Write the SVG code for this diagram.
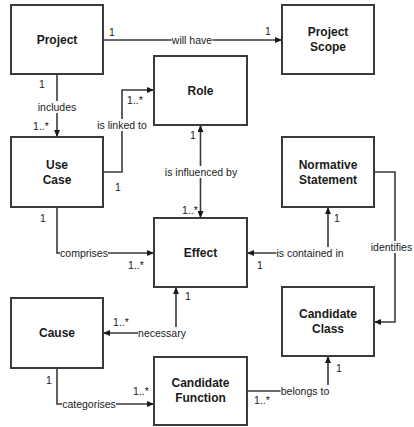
<svg xmlns="http://www.w3.org/2000/svg" width="414" height="427" viewBox="0 0 414 427">
<defs>
<style>
.box{fill:#fff;stroke:#3a3a3a;stroke-width:2}
.nt{font-family:"Liberation Sans",Arial,sans-serif;font-size:12px;font-weight:bold;fill:#1a1a1a;text-anchor:middle}
.ln{fill:none;stroke:#3a3a3a;stroke-width:1.6}
.lb{font-family:"Liberation Sans",Arial,sans-serif;font-size:10.5px;fill:#1a1a1a;text-anchor:middle}
.bg{fill:#fff}
</style>
<marker id="ah" markerWidth="7" markerHeight="6" refX="7" refY="3" orient="auto-start-reverse" markerUnits="userSpaceOnUse">
<path d="M0,0 L7,3 L0,6 z" fill="#1a1a1a"/>
</marker>
</defs>
<rect width="414" height="427" fill="#fff"/>
<g id="connectors">
<path class="ln" d="M103,40 H282" marker-end="url(#ah)"/>
<path class="ln" d="M57,74 V137" marker-end="url(#ah)"/>
<path class="ln" d="M103,172 H122 V90 H154" marker-end="url(#ah)"/>
<path class="ln" d="M200.5,125 V218" marker-start="url(#ah)" marker-end="url(#ah)"/>
<path class="ln" d="M57,207 V253 H154" marker-end="url(#ah)"/>
<path class="ln" d="M247,253 H328 V207" marker-start="url(#ah)" marker-end="url(#ah)"/>
<path class="ln" d="M374,172 H395 V322 H374" marker-end="url(#ah)"/>
<path class="ln" d="M176,287 V333 H103" marker-start="url(#ah)" marker-end="url(#ah)"/>
<path class="ln" d="M57,368 V404 H154" marker-end="url(#ah)"/>
<path class="ln" d="M247,391 H328 V356" marker-end="url(#ah)"/>
<rect class="bg" x="171.5" y="34" width="41" height="12"/>
<rect class="bg" x="37.5" y="101" width="39" height="12"/>
<rect class="bg" x="97" y="119" width="50" height="12"/>
<rect class="bg" x="164.5" y="166" width="73" height="12"/>
<rect class="bg" x="60" y="247" width="48" height="12"/>
<rect class="bg" x="276.5" y="247" width="67" height="12"/>
<rect class="bg" x="370" y="241" width="43" height="12"/>
<rect class="bg" x="138" y="327" width="48" height="12"/>
<rect class="bg" x="62" y="398" width="54" height="12"/>
<rect class="bg" x="280.5" y="385" width="49" height="12"/>
<text class="lb" x="112" y="35.5">1</text>
<text class="lb" x="192" y="43.5">will have</text>
<text class="lb" x="268" y="34.5">1</text>
<text class="lb" x="42" y="87.5">1</text>
<text class="lb" x="57" y="110.5">includes</text>
<text class="lb" x="41" y="129.5">1..*</text>
<text class="lb" x="135" y="103.5">1..*</text>
<text class="lb" x="122" y="128.5">is linked to</text>
<text class="lb" x="118" y="190.5">1</text>
<text class="lb" x="193" y="138.5">1</text>
<text class="lb" x="201" y="175.5">is influenced by</text>
<text class="lb" x="190" y="213.5">1..*</text>
<text class="lb" x="43" y="221.5">1</text>
<text class="lb" x="84" y="256.5">comprises</text>
<text class="lb" x="136" y="268.5">1..*</text>
<text class="lb" x="337" y="221.5">1</text>
<text class="lb" x="310" y="256.5">is contained in</text>
<text class="lb" x="260" y="268.5">1</text>
<text class="lb" x="391.5" y="250.5">identifies</text>
<text class="lb" x="188" y="299.5">1</text>
<text class="lb" x="162" y="336.5">necessary</text>
<text class="lb" x="121" y="325.5">1..*</text>
<text class="lb" x="49" y="383.5">1</text>
<text class="lb" x="89" y="407.5">categorises</text>
<text class="lb" x="141" y="394.5">1..*</text>
<text class="lb" x="339" y="371.5">1</text>
<text class="lb" x="305" y="394.5">belongs to</text>
<text class="lb" x="262" y="403.5">1..*</text>
</g>
<g id="project"><rect class="box" x="11" y="5" width="92" height="69"/><text class="nt" x="57" y="44">Project</text></g>
<g id="project-scope"><rect class="box" x="282" y="5" width="92" height="69"/><text class="nt" x="328" y="36">Project</text><text class="nt" x="328" y="51">Scope</text></g>
<g id="role"><rect class="box" x="154" y="56" width="93" height="69"/><text class="nt" x="200.5" y="95">Role</text></g>
<g id="use-case"><rect class="box" x="11" y="137" width="92" height="70"/><text class="nt" x="57" y="169">Use</text><text class="nt" x="57" y="184">Case</text></g>
<g id="normative-statement"><rect class="box" x="282" y="137" width="92" height="70"/><text class="nt" x="328" y="169">Normative</text><text class="nt" x="328" y="184">Statement</text></g>
<g id="effect"><rect class="box" x="154" y="218" width="93" height="69"/><text class="nt" x="200.5" y="257">Effect</text></g>
<g id="cause"><rect class="box" x="11" y="298" width="92" height="70"/><text class="nt" x="57" y="337">Cause</text></g>
<g id="candidate-class"><rect class="box" x="282" y="287" width="92" height="69"/><text class="nt" x="328" y="318">Candidate</text><text class="nt" x="328" y="333">Class</text></g>
<g id="candidate-function"><rect class="box" x="154" y="357" width="93" height="68"/><text class="nt" x="200.5" y="387">Candidate</text><text class="nt" x="200.5" y="402">Function</text></g>
</svg>
